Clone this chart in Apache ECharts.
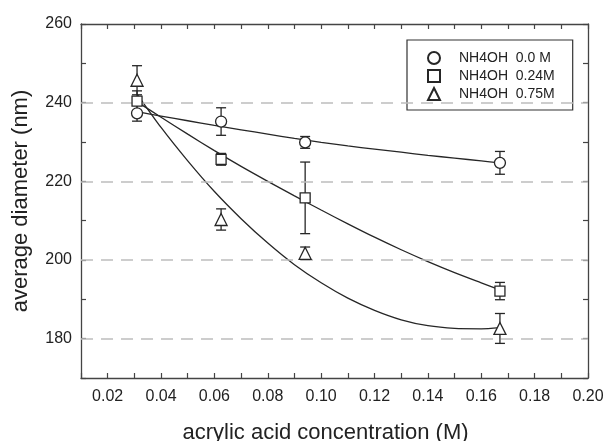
<!DOCTYPE html>
<html>
<head>
<meta charset="utf-8">
<script src="https://cdn.jsdelivr.net/npm/echarts@6/dist/echarts.min.js"></script>
<style>
  html, body { margin: 0; padding: 0; background: #fff; }
  #chart { width: 607px; height: 441px; }
</style>
</head>
<body>
<div id="chart"></div>
<script>
// measured concentrations (M)
const conc = [0.031, 0.0625, 0.094, 0.167]

// average diameter (nm) and error (+/-) per NH4OH concentration
const names = ['NH4OH  0.0 M', 'NH4OH  0.24M', 'NH4OH  0.75M']
const diam00 = [237.3, 235.2, 229.9, 224.7]
const err00 = [2.0, 3.5, 1.5, 2.9]
const diam024 = [240.4, 225.6, 215.8, 192.1]
const err024 = [2.6, 1.5, 9.1, 2.2]
const diam075 = [245.7, 210.3, 201.7, 182.6]
const err075 = [3.7, 2.7, 1.6, 3.8]

// fitted curves
const fitX = [0.031, 0.04, 0.05, 0.06, 0.07, 0.08, 0.09, 0.10, 0.11, 0.12, 0.13, 0.14, 0.15, 0.16, 0.167]
const fit00 = [237.7, 236.6, 235.4, 234.2, 233.1, 232.0, 230.9, 229.9, 229.0, 228.2, 227.4, 226.6, 225.9, 225.2, 224.7]
const fit024 = [240.2, 236.3, 232.0, 227.8, 223.8, 220.0, 216.3, 212.7, 209.2, 205.8, 202.6, 199.6, 196.8, 194.2, 192.4]
const fit075 = [242.2, 233.7, 225.2, 217.4, 210.5, 204.3, 198.8, 194.2, 190.3, 187.2, 184.8, 183.3, 182.6, 182.5, 182.8]

// dashed reference lines
const gridLevels = [180, 200, 220, 240]

const ink = '#262626'

function pairs(xs, ys) {
  return xs.map((x, i) => [x, ys[i]])
}
function errRows(ys, es) {
  return conc.map((x, i) => [x, ys[i] - es[i], ys[i] + es[i]])
}

function renderErr(params, api) {
  const lo = api.coord([api.value(0), api.value(1)])
  const hi = api.coord([api.value(0), api.value(2)])
  const w = 5
  const style = { stroke: ink, lineWidth: 1.3 }
  return {
    type: 'group',
    children: [
      { type: 'line', shape: { x1: lo[0], y1: lo[1], x2: hi[0], y2: hi[1] }, style },
      { type: 'line', shape: { x1: lo[0] - w, y1: lo[1], x2: lo[0] + w, y2: lo[1] }, style },
      { type: 'line', shape: { x1: hi[0] - w, y1: hi[1], x2: hi[0] + w, y2: hi[1] }, style },
    ],
  }
}

const axisLine = { show: true, onZero: false, lineStyle: { color: '#444', width: 1.3 } }
const tick = { show: true, inside: true, length: 5, lineStyle: { color: '#444', width: 1.2 } }
const font = 'Liberation Sans, Arial, sans-serif'

const chart = echarts.init(document.getElementById('chart'))

const fitSeries = [fit00, fit024, fit075].map((d, i) => ({
  name: 'fit' + i,
  type: 'line',
  data: pairs(fitX, d),
  smooth: 0.25,
  showSymbol: false,
  symbol: 'none',
  silent: true,
  z: 3,
  lineStyle: { color: ink, width: 1.3 },
  markLine: i === 0 ? {
    silent: true,
    symbol: 'none',
    label: { show: false },
    lineStyle: { color: '#bdbdbd', width: 1.5, type: [12, 8] },
    data: gridLevels.map(v => ({ yAxis: v })),
  } : undefined,
}))

const errSeries = [[diam00, err00], [diam024, err024], [diam075, err075]].map(([d, e], i) => ({
  name: 'err' + i,
  type: 'custom',
  data: errRows(d, e),
  renderItem: renderErr,
  encode: { x: 0, y: [1, 2] },
  silent: true,
  z: 4,
}))

const symbols = ['circle', 'rect', 'triangle']
const sizes = [11, 10, 12]
const pointSeries = [diam00, diam024, diam075].map((d, i) => ({
  name: names[i],
  type: 'scatter',
  data: pairs(conc, d),
  symbol: symbols[i],
  symbolSize: sizes[i],
  z: 5,
  itemStyle: { color: '#fff', borderColor: ink, borderWidth: 1.3, opacity: 1 },
}))

chart.setOption({
  animation: false,
  backgroundColor: '#fff',
  textStyle: { fontFamily: font },
  grid: { left: 81, right: 19, top: 24, bottom: 63, containLabel: false, outerBoundsMode: 'none' },
  legend: {
    data: names,
    orient: 'vertical',
    left: 407,
    top: 40,
    itemGap: 4,
    itemWidth: 12,
    itemHeight: 12,
    padding: [11, 18, 9, 20],
    borderColor: '#333',
    borderWidth: 1.2,
    backgroundColor: '#fff',
    textStyle: { fontSize: 14, color: '#222', fontFamily: font, padding: [0, 0, 0, 14] },
    selectedMode: false,
  },
  xAxis: [
    {
      type: 'value',
      min: 0.01,
      max: 0.20,
      interval: 0.01,
      axisLine,
      axisTick: tick,
      splitLine: { show: false },
      axisLabel: {
        fontSize: 16,
        color: '#222',
        margin: 11,
        formatter: v => (Math.round(v * 100) % 2 === 0 ? v.toFixed(2) : ''),
      },
      name: 'acrylic acid concentration (M)',
      nameLocation: 'middle',
      nameGap: 44,
      nameMoveOverlap: false,
      nameTextStyle: { fontSize: 22, color: '#222', padding: [0, 18, 0, 0] },
    },
    {
      type: 'value',
      position: 'top',
      min: 0.01,
      max: 0.20,
      interval: 0.01,
      axisLine,
      axisTick: tick,
      axisLabel: { show: false },
      splitLine: { show: false },
    },
  ],
  yAxis: [
    {
      type: 'value',
      min: 170,
      max: 260,
      interval: 10,
      axisLine,
      axisTick: tick,
      splitLine: { show: false },
      axisLabel: {
        fontSize: 16,
        color: '#222',
        margin: 9,
        formatter: v => (v % 20 === 0 ? String(v) : ''),
      },
      name: 'average diameter (nm)',
      nameLocation: 'middle',
      nameGap: 49,
      nameMoveOverlap: false,
      nameRotate: 90,
      nameTextStyle: { fontSize: 22, color: '#222' },
    },
    {
      type: 'value',
      position: 'right',
      min: 170,
      max: 260,
      interval: 10,
      axisLine,
      axisTick: tick,
      axisLabel: { show: false },
      splitLine: { show: false },
    },
  ],
  series: [...fitSeries, ...errSeries, ...pointSeries],
})
</script>
</body>
</html>
